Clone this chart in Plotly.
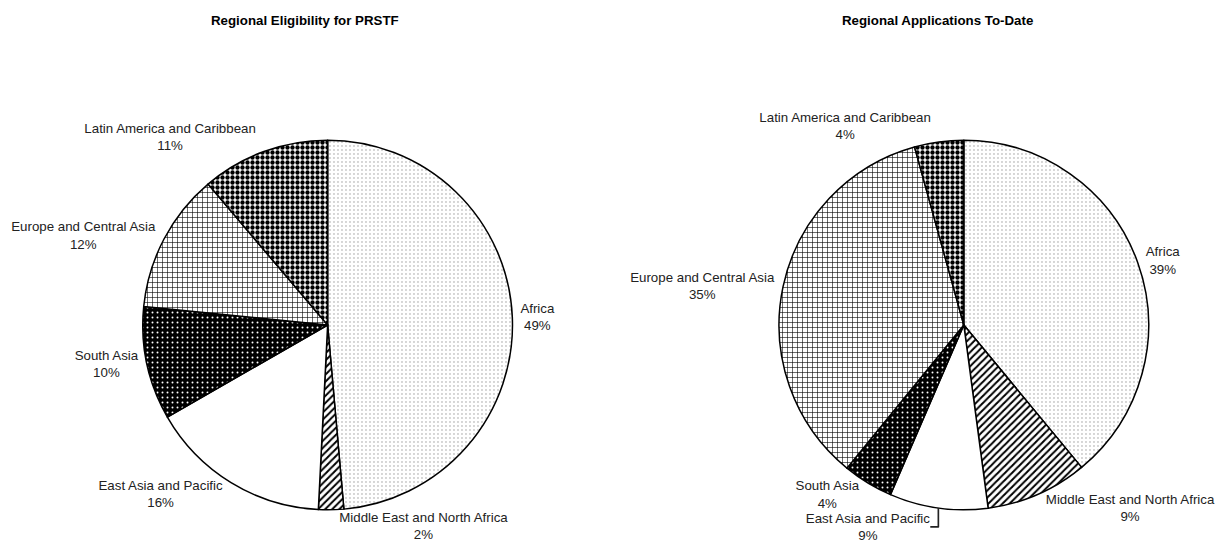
import plotly.graph_objects as go

regions = ["Africa", "Middle East and North Africa", "East Asia and Pacific",
           "South Asia", "Europe and Central Asia", "Latin America and Caribbean"]
eligibility = [48.6, 2.2, 15.9, 9.9, 12.2, 11.2]
applications = [39.0, 8.9, 8.6, 4.4, 34.8, 4.3]
titles = ["Regional Eligibility for PRSTF", "Regional Applications To-Date"]

patterns = dict(
    shape=[".", "/", "", ".", "+", "."],
    fgcolor=["#999999", "black", "white", "white", "black", "black"],
    bgcolor=["white", "white", "white", "black", "white", "white"],
    fgopacity=1,
    size=[4, 5, 8, 5, 5, 5],
    solidity=[0.1, 0.4, 0.0, 0.12, 0.22, 0.6],
    fillmode="overlay",
)

FONT = "Liberation Sans, Arial, sans-serif"

def pie(values, domain_x):
    return go.Pie(
        labels=regions, values=values, sort=False, direction="clockwise",
        rotation=0,
        domain=dict(x=domain_x, y=[0.0725, 0.75]),
        marker=dict(colors=["white"] * 6, pattern=patterns,
                    line=dict(color="black", width=1.5)),
        texttemplate="%{label}<br>%{percent:.0%}",
        textposition="outside",
        textfont=dict(family=FONT, size=13.3, color="#222222"),
        showlegend=False, hoverinfo="label+percent",
    )

fig = go.Figure([pie(eligibility, [0.1185, 0.4253]),
                 pie(applications, [0.6465, 0.9532])])

for x, t in zip([0.2535, 0.778], titles):
    fig.add_annotation(text=f"<b>{t}</b>", x=x, y=0.963, xref="paper", yref="paper",
                       showarrow=False, xanchor="center", yanchor="middle",
                       font=dict(family=FONT, size=13.3, color="black"))

fig.update_layout(width=1219, height=552, margin=dict(l=0, r=0, t=0, b=0),
                  paper_bgcolor="white", plot_bgcolor="white")
fig.write_html("out.html")
